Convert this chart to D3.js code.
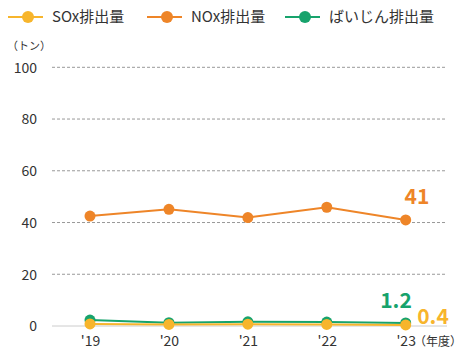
<!DOCTYPE html>
<html><head><meta charset="utf-8">
<script src="https://cdn.jsdelivr.net/npm/d3@7"></script>
<style>body{margin:0;background:#fff}svg{display:block}text{font-family:"Noto Sans CJK JP","Noto Sans",sans-serif}</style>
</head><body><svg id="c" width="472" height="355"></svg>
<script>
const years = ["'19","'20","'21","'22","'23"];
const sox = [0.8, 0.6, 0.7, 0.6, 0.4];
const nox = [42.5, 45.1, 41.9, 45.9, 41];
const dust = [2.3, 1.3, 1.6, 1.5, 1.2];
const yTicks = [0, 20, 40, 60, 80, 100];
const seriesNames = ["SOx排出量", "NOx排出量", "ばいじん排出量"];
const colors = ["#F7B52C", "#EE8528", "#17A36C"];

const svg = d3.select("#c");
const x = d3.scalePoint().domain(years).range([90, 405.7]);
const y = d3.scaleLinear().domain([0, 100]).range([326, 67.3]);

// grid
const yAxis = d3.axisLeft(y).tickValues(yTicks).tickSize(0).tickPadding(0).tickFormat(d3.format("d"));
const ga = svg.append("g").attr("transform", "translate(37,0)").call(yAxis);
ga.select(".domain").remove();
ga.selectAll("text").attr("font-size", 14).attr("fill", "#333").attr("dy", "0.35em").attr("x", 0);
svg.append("g").selectAll("line").data(yTicks).join("line")
  .attr("x1", 52).attr("x2", 447).attr("y1", d => y(d)).attr("y2", d => y(d))
  .attr("stroke", d => d === 0 ? "#ccc" : "#999").attr("stroke-width", 1)
  .attr("stroke-dasharray", d => d === 0 ? null : "3,2");

const xAxis = d3.axisBottom(x).tickSize(0).tickPadding(0);
const gx = svg.append("g").attr("transform", "translate(0,336)").call(xAxis);
gx.select(".domain").remove();
gx.selectAll("text").attr("font-size", 14).attr("fill", "#333").attr("dy", "0.71em");

svg.append("text").attr("x", 7).attr("y", 50).attr("font-size", 11).attr("fill", "#333").text("（トン）");
svg.append("text").attr("x", 414).attr("y", 346).attr("font-size", 12).attr("fill", "#333").text("（年度）");

const data = [sox, nox, dust];
const order = [1, 2, 0];
const line = d3.line().x((d, i) => x(years[i])).y(d => y(d));
order.forEach(k => {
  const g = svg.append("g");
  g.append("path").attr("d", line(data[k])).attr("fill", "none").attr("stroke", colors[k]).attr("stroke-width", 2);
  g.selectAll("circle").data(data[k]).join("circle")
    .attr("cx", (d, i) => x(years[i])).attr("cy", d => y(d)).attr("r", 5.5).attr("fill", colors[k]);
});

// value labels
const last = years.length - 1;
svg.append("text").attr("x", 417).attr("y", 204).attr("text-anchor", "middle").attr("font-size", 21).attr("font-weight", "bold").attr("fill", colors[1]).text(nox[last]);
svg.append("text").attr("x", 396).attr("y", 308).attr("text-anchor", "middle").attr("font-size", 21).attr("font-weight", "bold").attr("fill", colors[2]).text(dust[last].toFixed(1));
svg.append("text").attr("x", 433).attr("y", 324).attr("text-anchor", "middle").attr("font-size", 21).attr("font-weight", "bold").attr("fill", colors[0]).text(sox[last].toFixed(1));

// legend
const lx = [8, 147, 285];
seriesNames.forEach((n, i) => {
  const g = svg.append("g").attr("transform", `translate(${lx[i]},17)`);
  g.append("line").attr("x1", 0).attr("x2", 35).attr("stroke", colors[i]).attr("stroke-width", 2);
  g.append("circle").attr("cx", 20).attr("r", 6).attr("fill", colors[i]);
  g.append("text").attr("x", 44).attr("dy", "0.35em").attr("font-size", 15).attr("fill", "#333").text(n);
});
</script></body></html>
